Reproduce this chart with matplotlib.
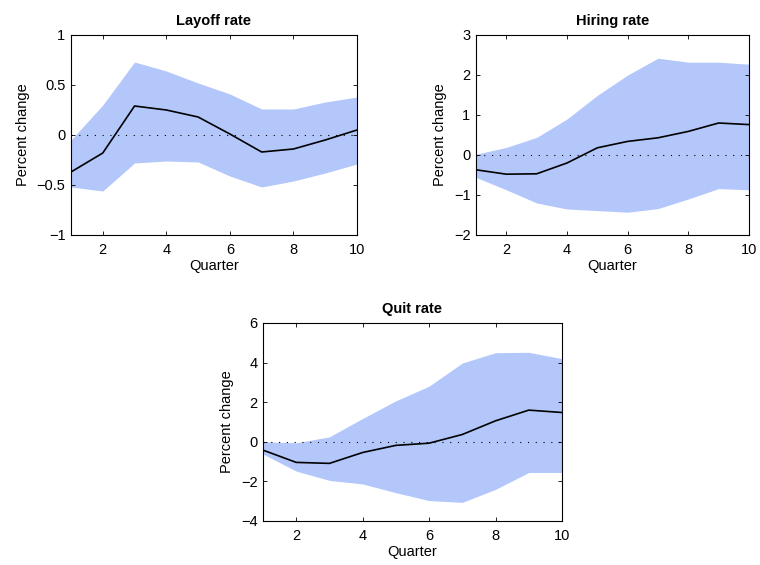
import matplotlib
matplotlib.use("Agg")
import matplotlib.pyplot as plt

plt.rcParams['font.family'] = ['Liberation Sans', 'DejaVu Sans']
plt.rcParams['font.size'] = 10.5

quarters = [1, 2, 3, 4, 5, 6, 7, 8, 9, 10]

# Layoff rate
layoff_mid = [-0.37, -0.18, 0.29, 0.25, 0.18, 0.01, -0.17, -0.14, -0.05, 0.05]
layoff_hi = [-0.05, 0.30, 0.73, 0.64, 0.52, 0.41, 0.26, 0.26, 0.33, 0.38]
layoff_lo = [-0.52, -0.56, -0.28, -0.26, -0.27, -0.41, -0.52, -0.46, -0.38, -0.29]

# Hiring rate
hiring_mid = [-0.37, -0.48, -0.47, -0.20, 0.18, 0.34, 0.43, 0.59, 0.80, 0.76]
hiring_hi = [0.02, 0.19, 0.44, 0.90, 1.49, 2.00, 2.42, 2.32, 2.32, 2.27]
hiring_lo = [-0.56, -0.87, -1.20, -1.35, -1.39, -1.43, -1.34, -1.10, -0.84, -0.87]

# Quit rate
quit_mid = [-0.42, -1.04, -1.09, -0.54, -0.18, -0.07, 0.37, 1.06, 1.60, 1.48]
quit_hi = [0.00, -0.05, 0.25, 1.18, 2.07, 2.81, 3.98, 4.50, 4.52, 4.20]
quit_lo = [-0.62, -1.48, -1.95, -2.13, -2.57, -2.97, -3.06, -2.40, -1.55, -1.55]

W, H = 760, 565
fig = plt.figure(figsize=(W / 100, H / 100), dpi=100)


def panel(rect, title, mid, lo, hi, ylim, yticks, yticklabels):
    l, t, r, b = rect
    ax = fig.add_axes([l / W, 1 - b / H, (r - l) / W, (b - t) / H])
    ax.fill_between(quarters, lo, hi, color='#b3c7fb', linewidth=0)
    ax.plot(quarters, [0] * len(quarters), color='black', linestyle=(0, (1, 6)), linewidth=0.8)
    ax.plot(quarters, mid, color='black', linewidth=1.2)
    ax.set_xlim(1, 10)
    ax.set_ylim(*ylim)
    ax.set_xticks([2, 4, 6, 8, 10])
    ax.set_yticks(yticks)
    ax.set_yticklabels(yticklabels)
    ax.tick_params(direction='in', top=True, right=True, length=3, width=0.6,
                   labelsize=10.5)
    ax.tick_params(axis='x', pad=6)
    ax.tick_params(axis='y', pad=4)
    for s in ax.spines.values():
        s.set_linewidth(0.8)
    ax.set_title(title, fontweight='bold', fontsize=10.5, pad=7)
    ax.set_xlabel('Quarter', fontsize=10.5, labelpad=1)
    ax.set_ylabel('Percent change', fontsize=10.5, labelpad=5)
    return ax


panel((71, 35, 357, 235), 'Layoff rate', layoff_mid, layoff_lo, layoff_hi,
      (-1, 1), [-1, -0.5, 0, 0.5, 1], ['\u22121', '\u22120.5', '0', '0.5', '1'])
panel((476, 35, 749, 235), 'Hiring rate', hiring_mid, hiring_lo, hiring_hi,
      (-2, 3), [-2, -1, 0, 1, 2, 3], ['\u22122', '\u22121', '0', '1', '2', '3'])
panel((263, 323, 562, 521), 'Quit rate', quit_mid, quit_lo, quit_hi,
      (-4, 6), [-4, -2, 0, 2, 4, 6], ['\u22124', '\u22122', '0', '2', '4', '6'])

fig.savefig('out.png', dpi=100)
